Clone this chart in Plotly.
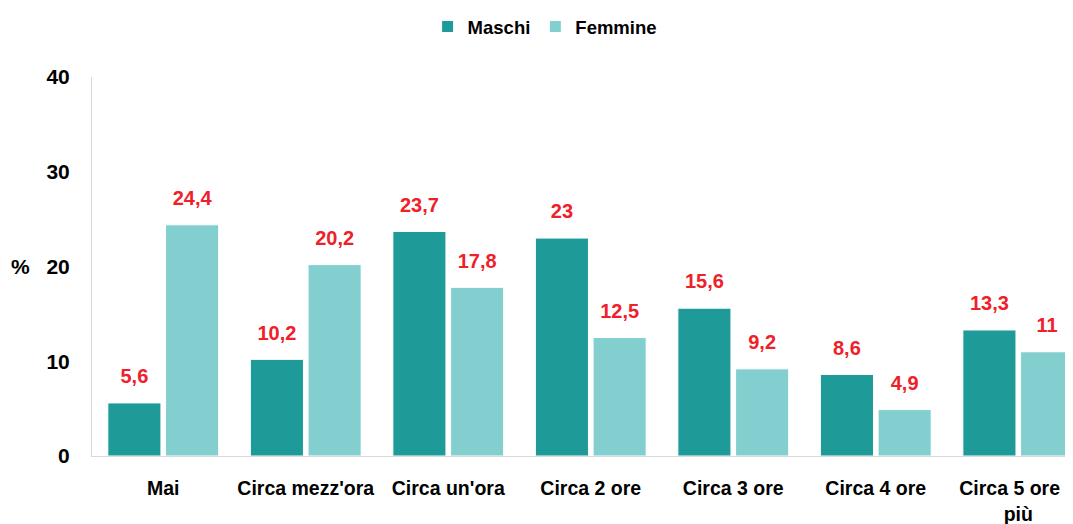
import plotly.graph_objects as go

categories = ["Mai", "Circa mezz'ora", "Circa un'ora", "Circa 2 ore", "Circa 3 ore", "Circa 4 ore", "Circa 5 ore o<br>più"]
maschi = [5.6, 10.2, 23.7, 23, 15.6, 8.6, 13.3]
femmine = [24.4, 20.2, 17.8, 12.5, 9.2, 4.9, 11]
y_ticks = [0, 10, 20, 30, 40]

c_m = "#1e9a98"
c_f = "#83cfd0"
red = "#f0202a"
FONT = "Liberation Sans"

def fmt(v):
    return ("%g" % v).replace(".", ",")

fig = go.Figure()
fig.add_bar(x=categories, y=maschi, name="Maschi", marker=dict(color=c_m, line=dict(color="white", width=1)),
            offsetgroup="m", alignmentgroup="a")
fig.add_bar(x=categories, y=femmine, name="Femmine", marker=dict(color=c_f, line=dict(color="white", width=1)),
            offsetgroup="f", alignmentgroup="a")
for vals, og in [(maschi, "m"), (femmine, "f")]:
    fig.add_scatter(x=categories, y=vals, mode="markers+text", text=[fmt(v) for v in vals],
                    textposition="top center", offsetgroup=og, alignmentgroup="a",
                    marker=dict(size=22, opacity=0), showlegend=False, hoverinfo="skip",
                    textfont=dict(family=FONT, size=20, color=red, weight="bold"), cliponaxis=False)

fig.add_annotation(text="<b>%</b>", xref="paper", yref="y", x=0, y=20, xshift=-72, xanchor="center",
                   showarrow=False, font=dict(family=FONT, size=21, color="black"))

fig.update_layout(
    width=1065, height=516,
    margin=dict(l=84, r=0, t=69, b=68),
    barmode="group", bargap=0.19, bargroupgap=0.08,
    scattermode="group", scattergap=0.19,
    plot_bgcolor="white", paper_bgcolor="white",
    legend=dict(orientation="h", x=0.394, xref="container", xanchor="left", y=1.0, yref="container",
                yanchor="top", font=dict(family=FONT, size=18.5, color="black", weight="bold"),
                itemwidth=30, traceorder="normal"),
    xaxis=dict(range=[-0.5, 6.384], showline=True, linecolor="#d9d9d9", linewidth=1, ticks="",
               automargin=False, ticklabelstandoff=15, tickangle=0,
               tickfont=dict(family=FONT, size=19.5, color="black", weight="bold"), showgrid=False),
    yaxis=dict(range=[0, 40], tickvals=y_ticks, showline=True, linecolor="#d9d9d9", linewidth=1,
               automargin=False, showgrid=False, zeroline=False, ticks="", ticklabelstandoff=17,
               tickfont=dict(family=FONT, size=21, color="black", weight="bold")),
)
fig.write_html("out.html")
